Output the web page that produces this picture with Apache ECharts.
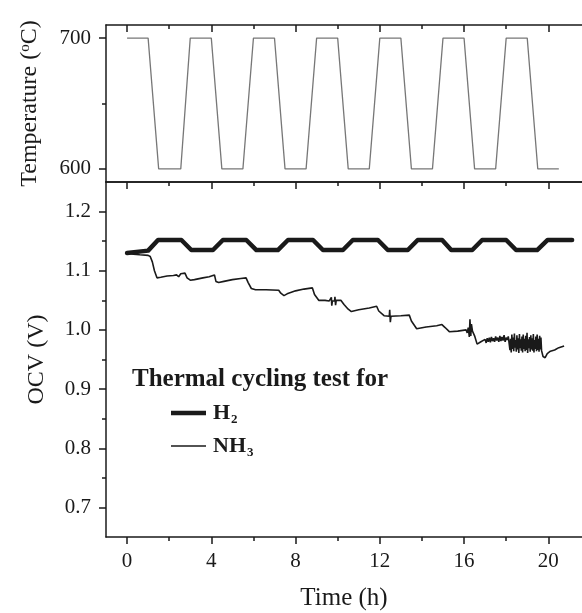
<!DOCTYPE html>
<html>
<head>
<meta charset="utf-8">
<script src="https://cdn.jsdelivr.net/npm/echarts@6/dist/echarts.min.js"></script>
<style>
  html, body { margin: 0; padding: 0; background: #fff; }
  #chart { width: 582px; height: 613px; }
</style>
</head>
<body>
<div id="chart"></div>
<script>
// temperature program (top panel)
const tempTime = [0, 1.0, 1.5, 2.55, 3.0, 4.0, 4.5, 5.5, 6.0, 7.0, 7.5, 8.5, 9.0, 10.0, 10.5, 11.5, 12.0, 13.0, 13.5, 14.5, 15.0, 16.0, 16.5, 17.5, 18.0, 19.0, 19.5, 20.5];
const tempValue = [700, 700, 600, 600, 700, 700, 600, 600, 700, 700, 600, 600, 700, 700, 600, 600, 700, 700, 600, 600, 700, 700, 600, 600, 700, 700, 600, 600];

// OCV with H2 fuel
const h2Time = [0, 1.0, 1.47, 2.58, 3.05, 4.08, 4.55, 5.66, 6.14, 7.16, 7.64, 8.83, 9.3, 10.25, 10.72, 11.91, 12.38, 13.33, 13.8, 14.96, 15.39, 16.39, 16.86, 18.0, 18.47, 19.47, 19.97, 21.13];
const h2Ocv = [1.130, 1.134, 1.152, 1.152, 1.135, 1.135, 1.152, 1.152, 1.135, 1.135, 1.152, 1.152, 1.135, 1.135, 1.152, 1.152, 1.135, 1.135, 1.152, 1.152, 1.135, 1.135, 1.152, 1.152, 1.135, 1.135, 1.152, 1.152];

// OCV with NH3 fuel
const nh3Time = [
  0, 0.3, 0.6, 1.0, 1.1, 1.2, 1.3, 1.42, 1.6, 1.9, 2.2, 2.35, 2.45, 2.55, 2.75, 2.85, 3.0, 3.2, 3.6, 3.9,
  4.15, 4.22, 4.35, 4.6, 5.0, 5.4, 5.65, 5.75, 5.9, 6.1, 6.6, 7.2, 7.3, 7.45, 7.6, 8.0, 8.4, 8.8, 8.9, 9.1,
  9.4, 9.6, 9.7, 9.72, 9.75, 9.85, 9.87, 9.9, 9.93, 10.15, 10.3, 10.5, 10.65, 11.0, 11.5, 11.85, 11.95, 12.2, 12.45, 12.47,
  12.5, 12.53, 13.0, 13.4, 13.5, 13.75, 14.2, 14.7, 14.95, 15.0, 15.1, 15.3, 15.7, 16.1, 16.15, 16.2, 16.25, 16.28, 16.32, 16.35,
  16.4, 16.5, 16.62, 16.8, 17.0, 17.05, 17.1, 17.15, 17.2, 17.25, 17.3, 17.35, 17.4, 17.45, 17.5, 17.55,
  17.6, 17.65, 17.7, 17.75, 17.8, 17.85, 17.9, 17.95, 18.0, 18.05, 18.1,
  18.15, 18.18, 18.21, 18.24, 18.27, 18.3, 18.33, 18.36, 18.39, 18.42, 18.45, 18.48, 18.51,
  18.54, 18.57, 18.6, 18.63, 18.66, 18.69, 18.72, 18.75, 18.78, 18.81, 18.84, 18.87, 18.9,
  18.93, 18.96, 18.99, 19.02, 19.05, 19.08, 19.11, 19.14, 19.17, 19.2, 19.23, 19.26, 19.29,
  19.32, 19.35, 19.38, 19.41, 19.44, 19.47, 19.5, 19.53, 19.56, 19.59, 19.62, 19.65, 19.68,
  19.75, 19.85, 19.95, 20.1, 20.3, 20.5, 20.75
];
const nh3Ocv = [
  1.130, 1.128, 1.127, 1.126, 1.124, 1.115, 1.100, 1.088, 1.089, 1.091, 1.092, 1.093, 1.090, 1.095, 1.096, 1.088, 1.084, 1.085, 1.088, 1.090,
  1.093, 1.082, 1.080, 1.082, 1.085, 1.087, 1.088, 1.080, 1.070, 1.068, 1.068, 1.067, 1.062, 1.058, 1.061, 1.066, 1.069, 1.071, 1.060, 1.050,
  1.050, 1.049, 1.055, 1.041, 1.049, 1.049, 1.056, 1.042, 1.050, 1.050, 1.043, 1.035, 1.031, 1.034, 1.037, 1.040, 1.032, 1.024, 1.023, 1.034,
  1.013, 1.023, 1.024, 1.025, 1.015, 1.002, 1.005, 1.007, 1.009, 1.012, 1.004, 0.997, 0.998, 1.000, 0.995, 1.004, 0.988, 1.018, 0.990, 1.010,
  0.998, 0.990, 0.976, 0.980, 0.984, 0.978, 0.986, 0.980, 0.987, 0.979, 0.988, 0.981, 0.986, 0.980, 0.989, 0.982,
  0.987, 0.980, 0.990, 0.981, 0.988, 0.982, 0.991, 0.980, 0.987, 0.983, 0.989,
  0.990, 0.966, 0.985, 0.962, 0.992, 0.968, 0.987, 0.964, 0.994, 0.970, 0.983, 0.963, 0.991,
  0.967, 0.986, 0.961, 0.993, 0.969, 0.984, 0.965, 0.989, 0.962, 0.992, 0.968, 0.985, 0.964,
  0.990, 0.966, 0.995, 0.961, 0.984, 0.969, 0.988, 0.963, 0.991, 0.967, 0.986, 0.965, 0.993,
  0.962, 0.983, 0.968, 0.989, 0.964, 0.992, 0.966, 0.985, 0.963, 0.990, 0.967, 0.987, 0.965,
  0.955, 0.953, 0.960, 0.964, 0.966, 0.970, 0.973
];

// axis ticks
const timeMajor = [0, 4, 8, 12, 16, 20];
const timeMinor = [2, 6, 10, 14, 18];
const tempMajor = [600, 700];
const tempMinor = [650];
const ocvMajor = [0.7, 0.8, 0.9, 1.0, 1.1, 1.2];
const ocvMinor = [0.75, 0.85, 0.95, 1.05, 1.15];

const serif = 'Liberation Serif';
const ink = '#1a1a1a';
const lineStyle = { color: ink, width: 1.5 };

function pairs(xs, ys) {
  return xs.map((x, i) => [x, ys[i]]);
}

// helper for one x axis
function timeAxis(grid, position, opts) {
  return Object.assign({
    type: 'value', gridIndex: grid, position: position,
    min: -1, max: 21.6,
    axisLine: { show: true, onZero: false, lineStyle: lineStyle },
    axisTick: { show: false },
    axisLabel: { show: false },
    splitLine: { show: false }
  }, opts);
}

const myChart = echarts.init(document.getElementById('chart'));

const options = {
  animation: false,
  backgroundColor: '#fff',
  grid: [
    { left: 106, right: 0, top: 25, height: 157, outerBoundsMode: 'none' },
    { left: 106, right: 0, top: 182, height: 355, outerBoundsMode: 'none' }
  ],
  xAxis: [
    // top panel
    timeAxis(0, 'bottom', {}),
    timeAxis(0, 'top', { axisTick: { show: true, inside: true, length: 7, customValues: timeMajor, lineStyle: lineStyle } }),
    timeAxis(0, 'top', { axisLine: { show: false }, axisTick: { show: true, inside: true, length: 4, customValues: timeMinor, lineStyle: lineStyle } }),
    // bottom panel
    timeAxis(1, 'top', { axisTick: { show: true, inside: true, length: 7, customValues: timeMajor, lineStyle: lineStyle } }),
    timeAxis(1, 'top', { axisLine: { show: false }, axisTick: { show: true, inside: true, length: 4, customValues: timeMinor, lineStyle: lineStyle } }),
    timeAxis(1, 'bottom', {
      axisTick: { show: true, inside: false, length: 7, customValues: timeMajor, lineStyle: lineStyle },
      axisLabel: { show: true, customValues: timeMajor, margin: 14, fontFamily: serif, fontSize: 21, color: ink },
      name: 'Time (h)', nameLocation: 'middle', nameGap: 49,
      nameTextStyle: { fontFamily: serif, fontSize: 25, color: ink }
    }),
    timeAxis(1, 'bottom', { axisLine: { show: false }, axisTick: { show: true, inside: false, length: 4, customValues: timeMinor, lineStyle: lineStyle } })
  ],
  yAxis: [
    {
      type: 'value', gridIndex: 0, position: 'left', min: 590, max: 710,
      axisLine: { show: true, onZero: false, lineStyle: lineStyle },
      axisTick: { show: true, length: 7, customValues: tempMajor, lineStyle: lineStyle },
      axisLabel: { customValues: tempMajor, margin: 15, fontFamily: serif, fontSize: 21, color: ink },
      splitLine: { show: false },
      name: 'Temperature ({sup|o}C)', nameLocation: 'middle', nameGap: 64, nameRotate: 90,
      nameTextStyle: {
        fontFamily: serif, fontSize: 24, color: ink,
        rich: { sup: { fontFamily: serif, fontSize: 15, color: ink, verticalAlign: 'top' } }
      }
    },
    {
      type: 'value', gridIndex: 0, position: 'left', min: 590, max: 710,
      axisLine: { show: false, onZero: false },
      axisTick: { show: true, length: 4, customValues: tempMinor, lineStyle: lineStyle },
      axisLabel: { show: false },
      splitLine: { show: false }
    },
    {
      type: 'value', gridIndex: 1, position: 'left', min: 0.65, max: 1.25,
      axisLine: { show: true, onZero: false, lineStyle: lineStyle },
      axisTick: { show: true, length: 7, customValues: ocvMajor, lineStyle: lineStyle },
      axisLabel: { customValues: ocvMajor, margin: 15, fontFamily: serif, fontSize: 21, color: ink, formatter: v => v.toFixed(1) },
      splitLine: { show: false },
      name: 'OCV (V)', nameLocation: 'middle', nameGap: 57, nameRotate: 90,
      nameTextStyle: { fontFamily: serif, fontSize: 24, color: ink }
    },
    {
      type: 'value', gridIndex: 1, position: 'left', min: 0.65, max: 1.25,
      axisLine: { show: false, onZero: false },
      axisTick: { show: true, length: 4, customValues: ocvMinor, lineStyle: lineStyle },
      axisLabel: { show: false },
      splitLine: { show: false }
    }
  ],
  graphic: [
    {
      type: 'text', left: 132, top: 367,
      style: { text: 'Thermal cycling test for', fontFamily: serif, fontWeight: 'bold', fontSize: 25, fill: ink }
    },
    { type: 'line', shape: { x1: 171, y1: 413, x2: 206, y2: 413 }, style: { stroke: ink, lineWidth: 4.5 } },
    {
      type: 'text', left: 213, top: 402,
      style: {
        text: '{b|H}{s|2}', fill: ink,
        rich: {
          b: { fontFamily: serif, fontWeight: 'bold', fontSize: 22, fill: ink },
          s: { fontFamily: serif, fontWeight: 'bold', fontSize: 13, fill: ink, padding: [14, 0, 0, 1] }
        }
      }
    },
    { type: 'line', shape: { x1: 171, y1: 446, x2: 206, y2: 446 }, style: { stroke: ink, lineWidth: 1.6 } },
    {
      type: 'text', left: 213, top: 435,
      style: {
        text: '{b|NH}{s|3}', fill: ink,
        rich: {
          b: { fontFamily: serif, fontWeight: 'bold', fontSize: 22, fill: ink },
          s: { fontFamily: serif, fontWeight: 'bold', fontSize: 13, fill: ink, padding: [14, 0, 0, 1] }
        }
      }
    }
  ],
  series: [
    {
      name: 'Temperature', type: 'line', xAxisIndex: 0, yAxisIndex: 0,
      symbol: 'none', data: pairs(tempTime, tempValue),
      lineStyle: { color: '#777', width: 1.3 }
    },
    {
      name: 'H2', type: 'line', xAxisIndex: 5, yAxisIndex: 2,
      symbol: 'none', data: pairs(h2Time, h2Ocv),
      lineStyle: { color: ink, width: 4.5, join: 'round', cap: 'round' }
    },
    {
      name: 'NH3', type: 'line', xAxisIndex: 5, yAxisIndex: 2,
      symbol: 'none', data: pairs(nh3Time, nh3Ocv),
      lineStyle: { color: ink, width: 1.6 }
    }
  ]
};
myChart.setOption(options);
</script>
</body>
</html>
